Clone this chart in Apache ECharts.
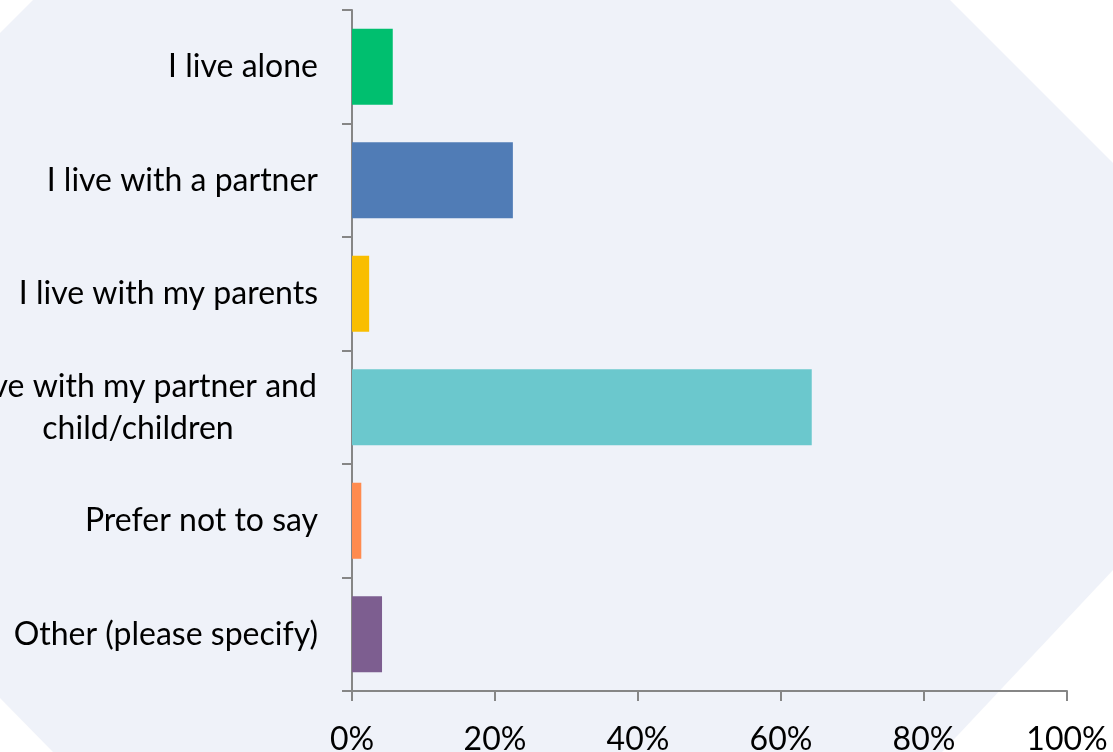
<!DOCTYPE html>
<html>
<head>
<meta charset="utf-8">
<script src="https://cdn.jsdelivr.net/npm/echarts@6/dist/echarts.min.js"></script>
<style>
  html, body { margin: 0; padding: 0; background: #ffffff; }
  #chart { width: 1113px; height: 752px; }
</style>
</head>
<body>
<div id="chart"></div>
<script>
// Living situation of respondents (share of answers, %)
const categories = [
  'I live alone',
  'I live with a partner',
  'I live with my parents',
  'I live with my partner and\nchild/children',
  'Prefer not to say',
  'Other (please specify)'
];
const shares = [5.7, 22.5, 2.4, 64.3, 1.3, 4.2];
const tickValues = [0, 20, 40, 60, 80, 100];

const barColors = ['#00BF6F', '#507CB6', '#F9BE00', '#6BC8CD', '#FF8B4F', '#7D5E90'];
const axisGray = '#868686';
const labelFont = 'Lato, "Open Sans", sans-serif';
const labelSize = 32;

const chart = echarts.init(document.getElementById('chart'), null, { renderer: 'canvas' });

chart.setOption({
  backgroundColor: '#ffffff',
  animation: false,
  graphic: [{
    type: 'polygon',
    z: -10,
    silent: true,
    shape: {
      points: [[0, 33], [33, 0], [950, 0], [1113, 163], [1113, 570], [942, 752], [53, 752], [0, 698]]
    },
    style: { fill: '#eff2f9' }
  }],
  grid: {
    left: 352, right: 46, top: 10, bottom: 61,
    containLabel: false,
    outerBoundsMode: 'none'
  },
  xAxis: {
    type: 'value',
    min: tickValues[0],
    max: tickValues[tickValues.length - 1],
    interval: tickValues[1] - tickValues[0],
    axisLine: { show: true, lineStyle: { color: axisGray, width: 2 } },
    axisTick: { show: true, length: 10, lineStyle: { color: axisGray, width: 2 } },
    splitLine: { show: false },
    axisLabel: {
      margin: 33,
      color: '#000',
      fontSize: labelSize,
      fontFamily: labelFont,
      formatter: '{value}%'
    }
  },
  yAxis: {
    type: 'category',
    inverse: true,
    data: categories,
    axisLine: { show: true, lineStyle: { color: axisGray, width: 2 } },
    axisTick: { show: true, length: 10, lineStyle: { color: axisGray, width: 2 } },
    axisLabel: {
      margin: 34,
      color: '#000',
      fontSize: labelSize,
      lineHeight: 42,
      fontFamily: labelFont,
      formatter: function (v) {
        if (v.indexOf('\n') >= 0) {
          return v.split('\n').map(function (s) { return '{c|' + s + '}'; }).join('\n');
        }
        return v;
      },
      rich: {
        c: { width: 360, align: 'center', fontSize: labelSize, lineHeight: 42, fontFamily: labelFont, color: '#000' }
      }
    }
  },
  series: [{
    type: 'bar',
    barCategoryGap: '33%',
    data: shares.map(function (v, i) {
      return { value: v, itemStyle: { color: barColors[i] } };
    })
  }]
});
</script>
</body>
</html>
